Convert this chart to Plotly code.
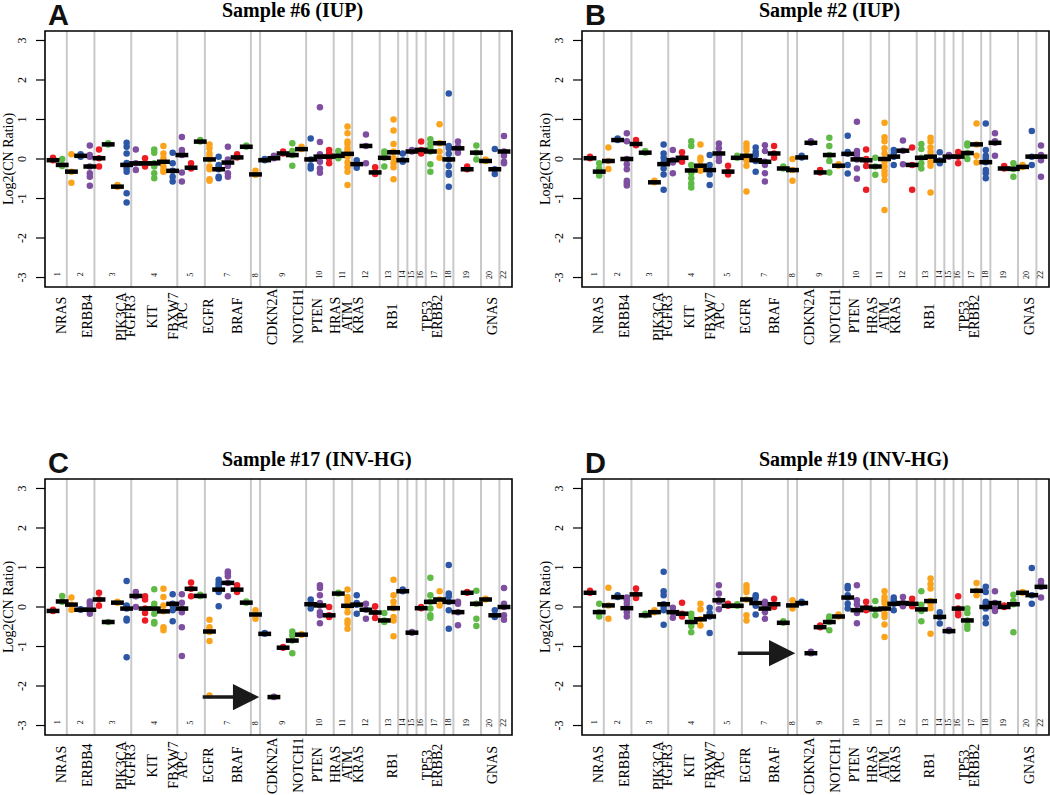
import plotly.graph_objects as go

# chromosome layout of the amplicon groups (group index 1..50 along the genome)
chrom_names = ["1", "2", "3", "4", "5", "7", "8", "9", "10", "11", "12",
               "13", "14", "15", "16", "17", "18", "19", "20", "22"]
chrom_sizes = [2, 3, 4, 5, 3, 5, 1, 5, 3, 2, 3, 2, 1, 1, 1, 2, 1, 3, 2, 1]

gene_names = ["NRAS", "ERBB4", "PIK3CA", "FGFR3", "KIT", "FBXW7", "APC", "EGFR",
              "BRAF", "CDKN2A", "NOTCH1", "PTEN", "HRAS", "ATM", "KRAS", "RB1",
              "TP53", "ERBB2", "GNAS"]
gene_pos = [1.87, 4.7, 8.4, 9.4, 11.8, 14.0, 15.0, 17.85, 21.0, 24.8, 27.6, 29.7,
            31.65, 32.95, 34.15, 37.85, 41.65, 42.75, 48.7]

y_ticks = [-3, -2, -1, 0, 1, 2, 3]

titles = ["Sample #6 (IUP)", "Sample #2 (IUP)", "Sample #17 (INV-HG)", "Sample #19 (INV-HG)"]
letters = ["A", "B", "C", "D"]

# per-group median (black bars)
med_s6 = [-0.03, -0.15, -0.32, 0.08, -0.19, 0.02, 0.37, -0.70, -0.15, -0.11,
          -0.11, -0.11, -0.07, -0.30, 0.10, -0.22, 0.44, -0.01, -0.26, -0.09,
          0.04, 0.31, -0.39, -0.03, 0.02, 0.14, 0.10, 0.25, -0.01, 0.06,
          0.06, 0.08, 0.13, -0.13, 0.33, -0.34, 0.03, 0.17, -0.03, 0.19,
          0.23, 0.19, 0.40, -0.01, 0.27, -0.26, 0.16, -0.05, -0.26, 0.19]
med_s2 = [0.02, -0.32, -0.05, 0.48, 0.0, 0.38, 0.16, -0.59, -0.13, -0.03,
          0.03, -0.29, -0.17, -0.28, 0.14, -0.32, 0.03, 0.08, -0.03, -0.07,
          0.14, -0.24, -0.28, 0.04, 0.41, -0.34, 0.10, -0.17, 0.13, -0.01,
          -0.03, -0.19, 0.0, 0.06, 0.21, -0.15, 0.03, 0.06, -0.04, 0.06,
          0.06, 0.15, 0.37, -0.08, 0.41, -0.24, -0.25, -0.20, 0.06, 0.06]
med_s17 = [-0.10, 0.14, 0.06, -0.07, -0.07, 0.19, -0.38, 0.11, -0.04, 0.28,
           -0.04, -0.04, -0.11, 0.08, -0.04, 0.46, 0.28, -0.62, 0.44, 0.61,
           0.44, 0.11, -0.19, -0.68, -2.28, -1.03, -0.85, -0.70, 0.07, 0.04,
           -0.21, 0.34, 0.03, 0.06, -0.07, -0.14, -0.34, -0.03, 0.40, -0.65,
           -0.03, 0.13, 0.19, 0.13, -0.13, 0.36, 0.08, 0.19, -0.21, 0.0]
med_s19 = [0.36, -0.13, 0.04, 0.25, -0.03, 0.32, -0.21, -0.13, 0.07, -0.13,
           -0.17, -0.38, -0.31, -0.24, 0.17, 0.03, 0.03, 0.19, 0.10, -0.04,
           0.07, -0.40, 0.04, 0.10, -1.17, -0.51, -0.38, -0.24, 0.24, -0.08,
           -0.02, -0.06, -0.04, 0.08, 0.10, 0.08, -0.06, 0.15, -0.25, -0.61,
           -0.04, -0.34, 0.41, 0.0, 0.10, 0.0, 0.07, 0.36, 0.30, 0.51]

# individual amplicon log2 ratios per group
pts_s6 = [
    [0.03, -0.03], [0.0, -0.15, -0.18], [0.12, -0.32, -0.6], [0.12, 0.08, 0.06],
    [0.34, 0.1, 0.06, -0.19, -0.36, -0.45, -0.68], [0.24, 0.02, -0.19], [0.4, 0.37],
    [-0.66, -0.7], [0.41, 0.31, 0.14, -0.1, -0.24, -0.32, -0.87, -1.1],
    [0.24, -0.11, -0.28], [0.02, -0.11, -0.19], [0.24, 0.16, -0.11, -0.19, -0.36, -0.49],
    [0.33, 0.14, 0.02, -0.07, -0.19, -0.28, -0.32], [0.16, -0.11, -0.3, -0.45, -0.57],
    [0.56, 0.23, 0.14, 0.1, -0.34, -0.57], [-0.11, -0.22, -0.24], [0.48, 0.44],
    [0.37, 0.27, 0.14, 0.06, -0.01, -0.19, -0.26, -0.51, -0.55],
    [0.06, -0.15, -0.19, -0.26, -0.45, -0.49], [0.31, -0.01, -0.09, -0.18, -0.36, -0.45],
    [0.12, 0.06, 0.04], [0.34, 0.31], [-0.3, -0.39, -0.4], [0.0, -0.03], [0.08, 0.02],
    [0.19, 0.14], [0.4, 0.2, 0.1, -0.17], [0.31, 0.25], [0.52, -0.01, -0.17, -0.24],
    [1.31, 0.43, 0.12, 0.06, -0.07, -0.24, -0.35], [0.23, 0.14, 0.06, 0.02, -0.11],
    [0.2, 0.08, 0.02],
    [0.82, 0.65, 0.44, 0.38, 0.27, 0.19, 0.13, 0.06, -0.09, -0.21, -0.32, -0.66],
    [-0.03, -0.13, -0.22], [0.62, 0.33, -0.11], [-0.21, -0.34, -0.38],
    [0.19, 0.13, 0.03, -0.19], [1.0, 0.72, 0.38, 0.19, 0.17, 0.02, -0.11, -0.21, -0.51],
    [0.14, -0.03, -0.07], [0.23, 0.19], [0.44, 0.23, 0.14],
    [0.5, 0.38, 0.27, 0.19, -0.13, -0.32], [0.88, 0.4, 0.19, 0.03],
    [1.66, 0.33, 0.27, 0.13, -0.01, -0.18, -0.35, -0.4, -0.7], [0.44, 0.31, 0.27, 0.16],
    [-0.19, -0.26], [0.34, 0.16, -0.01], [-0.01, -0.05], [0.25, -0.26, -0.38],
    [0.58, 0.19, 0.08, -0.07, -0.11],
]
pts_s2 = [
    [0.06, 0.02], [-0.11, -0.24, -0.32, -0.42], [0.29, -0.05, -0.25], [0.52, 0.48],
    [0.65, 0.45, 0.0, -0.13, -0.26, -0.55, -0.61, -0.67], [0.48, 0.35], [0.2, 0.16],
    [-0.55, -0.59], [0.37, 0.14, 0.03, -0.09, -0.13, -0.24, -0.39, -0.78],
    [0.23, -0.03, -0.09, -0.36], [0.17, 0.03, -0.07],
    [0.45, 0.33, -0.15, -0.29, -0.36, -0.49, -0.62, -0.72],
    [0.37, 0.03, -0.03, -0.17, -0.24, -0.3], [0.1, -0.15, -0.28, -0.39, -0.66],
    [0.39, 0.27, 0.14, 0.06, -0.05], [-0.17, -0.32, -0.39], [0.08, 0.03],
    [0.39, 0.31, 0.23, 0.08, -0.03, -0.17, -0.82], [0.29, 0.18, 0.1, -0.03, -0.05, -0.32],
    [0.35, 0.2, -0.07, -0.15, -0.36, -0.57], [0.33, 0.14, 0.03], [-0.19, -0.24],
    [0.0, -0.28, -0.55], [0.08, 0.04], [0.45, 0.41], [-0.28, -0.34],
    [0.54, 0.33, 0.1, -0.05, -0.34], [-0.13, -0.17], [0.59, 0.18, 0.13, -0.15, -0.37],
    [0.94, 0.2, 0.14, 0.06, -0.01, -0.24, -0.5], [0.24, 0.0, -0.03, -0.18, -0.78],
    [0.03, -0.19, -0.4],
    [0.92, 0.55, 0.45, 0.27, 0.14, 0.0, -0.07, -0.19, -0.3, -0.4, -0.53, -1.29],
    [0.23, 0.14, 0.06, -0.15], [0.47, 0.21, -0.13], [0.29, -0.15, -0.78],
    [0.38, 0.25, 0.03, -0.11, -0.24], [0.54, 0.44, 0.29, 0.18, 0.06, -0.08, -0.17, -0.85],
    [0.17, -0.04, -0.11], [0.1, 0.06], [0.18, 0.06, -0.11], [0.39, 0.34, 0.15, 0.0],
    [0.9, 0.37, 0.08, -0.09], [0.9, 0.23, 0.08, 0.02, -0.08, -0.28, -0.36, -0.49],
    [0.65, 0.45, 0.41, 0.08], [-0.18, -0.24], [-0.11, -0.25, -0.45], [-0.15, -0.2],
    [0.71, 0.06, -0.15], [0.34, 0.1, 0.06, -0.03, -0.45],
]
pts_s17 = [
    [-0.07, -0.1], [0.28, 0.14, 0.13], [0.24, 0.06, -0.07], [-0.06, -0.07],
    [0.14, 0.08, 0.0, -0.07, -0.1, -0.17], [0.36, 0.19, 0.03], [-0.38], [0.13, 0.11],
    [0.66, 0.04, 0.0, -0.04, -0.3, -0.34, -1.27], [0.38, 0.28, 0.27, 0.0],
    [0.27, 0.19, -0.04, -0.15, -0.34], [0.45, 0.08, 0.0, -0.04, -0.17, -0.38, -0.42],
    [0.46, 0.25, 0.04, -0.11, -0.51, -0.59], [0.32, 0.08, 0.04, -0.08, -0.36],
    [0.32, 0.11, -0.04, -0.13, -0.51, -1.24], [0.62, 0.46, 0.27], [0.31, 0.28],
    [-0.32, -0.51, -0.62, -0.63, -0.86, -2.24], [0.69, 0.61, 0.55, 0.49, 0.44, 0.38, 0.02],
    [0.9, 0.85, 0.78, 0.61, 0.27], [0.55, 0.44, 0.38], [0.14, 0.11], [-0.08, -0.19, -0.3],
    [-0.66, -0.68], [-2.27, -2.28], [-1.01, -1.03], [-0.62, -0.72, -0.85, -1.17],
    [-0.69, -0.7], [0.19, 0.1, 0.07, -0.04], [0.55, 0.48, 0.3, 0.1, 0.04, -0.13, -0.21, -0.41],
    [0.0, -0.21, -0.25], [0.36, 0.34],
    [0.44, 0.25, 0.17, 0.08, 0.03, 0.0, -0.13, -0.34, -0.42, -0.55],
    [0.3, 0.1, 0.06, -0.17], [0.08, -0.07, -0.3], [0.02, -0.14, -0.28], [-0.15, -0.34, -0.38],
    [0.69, 0.3, 0.13, 0.0, -0.03, -0.25, -0.34, -0.74], [0.44, 0.4], [-0.63, -0.65],
    [0.0, -0.03], [0.74, 0.3, 0.13, -0.04, -0.21, -0.27], [0.4, 0.19, 0.04],
    [1.06, 0.34, 0.27, 0.13, -0.08, -0.55], [0.13, 0.08, -0.13, -0.46], [0.38, 0.36],
    [0.41, 0.08, -0.3, -0.48], [0.21, 0.19], [-0.08, -0.21, -0.25],
    [0.48, 0.08, 0.0, -0.21, -0.32],
]
pts_s19 = [
    [0.41, 0.36], [0.08, -0.13, -0.24], [0.49, 0.04, -0.3], [0.3, 0.25],
    [0.24, 0.17, 0.08, -0.03, -0.13, -0.24], [0.47, 0.32, 0.23], [-0.17, -0.21],
    [-0.08, -0.13], [0.89, 0.4, 0.3, 0.07, 0.0, -0.08, -0.45], [-0.02, -0.13, -0.27],
    [0.11, -0.17, -0.24], [-0.17, -0.25, -0.38, -0.48, -0.64], [0.08, -0.06, -0.31, -0.47],
    [-0.02, -0.15, -0.24, -0.66], [0.55, 0.34, 0.17, 0.13, -0.06], [0.08, 0.03],
    [0.07, 0.03], [0.55, 0.47, 0.38, 0.19, -0.21, -0.34], [0.3, 0.24, 0.1, 0.03, -0.19],
    [0.13, 0.04, -0.04, -0.13, -0.3], [0.21, 0.07, 0.0], [-0.36, -0.4], [0.17, 0.04, -0.04],
    [0.13, 0.1], [-1.13, -1.17], [-0.47, -0.51], [-0.24, -0.3, -0.38, -0.59], [-0.19, -0.24],
    [0.53, 0.47, 0.3, 0.24, 0.08, -0.04], [0.55, 0.17, 0.07, -0.08, -0.15, -0.41],
    [0.13, -0.02, -0.08], [0.15, -0.06, -0.21],
    [0.4, 0.25, 0.17, 0.1, -0.04, -0.17, -0.25, -0.44, -0.76], [0.24, 0.17, 0.08, -0.08],
    [0.25, 0.1, 0.02], [0.21, 0.08, 0.02], [0.4, 0.06, -0.06, -0.1, -0.36],
    [0.72, 0.58, 0.47, 0.15, 0.08, -0.03, -0.68], [-0.13, -0.25, -0.42], [-0.58, -0.61],
    [0.27, -0.04, -0.15, -0.21], [-0.04, -0.15, -0.34, -0.47, -0.55], [0.61, 0.41, 0.3],
    [0.51, 0.38, 0.13, 0.08, 0.0, -0.04, -0.27, -0.41], [0.4, 0.1, -0.04, -0.1], [0.04, 0.0],
    [0.31, 0.15, 0.07, -0.64], [0.38, 0.36], [0.99, 0.3, 0.08], [0.66, 0.59, 0.51, 0.24],
]

# arrows pointing at the CDKN2A deletion (panels C and D)
arrow_panel = [2, 3]
arrow_tail = [17.1, 16.9]
arrow_head = [23.4, 23.3]
arrow_level = [-2.28, -1.17]

medians = [med_s6, med_s2, med_s17, med_s19]
points = [pts_s6, pts_s2, pts_s17, pts_s19]

palette = ["#EC1C24", "#5FBA46", "#FAA31B", "#2C56A6", "#7E4FA0"]
SERIF = "Liberation Serif"
W, H = 1050, 795
lefts = [45, 582, 45, 582]
tops = [31, 31, 479, 479]
PW, PH = 467, 256
XR = [0.13, 50.87]
YR = [-3.24, 3.24]

# chromosome boundaries and centres in group units
bounds, centres = [], []
acc = 0
for s in chrom_sizes:
    centres.append(acc + (s + 1) / 2)
    acc += s
    bounds.append(acc + 0.5)
bounds = bounds[:-1]


def note(**kw):
    base = dict(showarrow=False, xanchor="center", yanchor="middle")
    base.update(kw)
    return base


fig = go.Figure()
shapes, annots = [], []
layout = {}

for i in range(4):
    sfx = "" if i == 0 else str(i + 1)
    xa, ya = "x" + sfx, "y" + sfx
    L, T = lefts[i], tops[i]
    B = T + PH
    layout["xaxis" + sfx] = dict(
        domain=[L / W, (L + PW) / W], range=XR, anchor=ya, automargin=False,
        showgrid=False, zeroline=False, showticklabels=False, ticks="", showline=False)
    layout["yaxis" + sfx] = dict(
        domain=[1 - B / H, 1 - T / H], range=YR, anchor=xa, automargin=False,
        showgrid=False, zeroline=False, showticklabels=False, ticks="", showline=False)

    # chromosome separators
    for b in bounds:
        shapes.append(dict(type="line", xref=xa, yref=ya + " domain", x0=b, x1=b,
                           y0=0, y1=1, layer="below",
                           line=dict(color="#C9C9C9", width=2)))
    # box around the panel
    shapes.append(dict(type="rect", xref=xa + " domain", yref=ya + " domain",
                       x0=0, x1=1, y0=0, y1=1, layer="above",
                       line=dict(color="black", width=1.6)))
    # y axis ticks and labels (R style, labels parallel to the axis)
    for tv in y_ticks:
        shapes.append(dict(type="line", xref="paper", yref=ya,
                           x0=(L - 9) / W, x1=L / W, y0=tv, y1=tv,
                           line=dict(color="black", width=1.2)))
        annots.append(note(x=(L - 23) / W, y=tv, xref="paper", yref=ya, text=str(tv),
                           textangle=-90, font=dict(family=SERIF, size=12, color="black")))

    px_, py_, pc_ = [], [], []
    bx, by = [], []
    for g, (m, vals) in enumerate(zip(medians[i], points[i])):
        gx = g + 1
        for v in vals:
            px_.append(gx)
            py_.append(v)
            pc_.append(palette[g % 5])
        bx += [gx - 0.7, gx + 0.7, None]
        by += [m, m, None]

    fig.add_trace(go.Scatter(x=px_, y=py_, mode="markers", xaxis=xa, yaxis=ya,
                             marker=dict(color=pc_, size=6.5, line=dict(width=0)),
                             showlegend=False, hoverinfo="y"))
    fig.add_trace(go.Scatter(x=bx, y=by, mode="lines", xaxis=xa, yaxis=ya,
                             line=dict(color="black", width=4.5),
                             showlegend=False, hoverinfo="skip"))

    for c, nm in zip(centres, chrom_names):
        annots.append(note(x=c, y=-2.93, xref=xa, yref=ya, text=nm, textangle=-90,
                           font=dict(family=SERIF, size=8, color="black")))

    lab_y = B + (29 if i < 2 else 30)
    for gp, gn in zip(gene_pos, gene_names):
        annots.append(note(x=gp, y=1 - lab_y / H, xref=xa, yref="paper", text=gn,
                           textangle=-90, font=dict(family=SERIF, size=14, color="black")))

    annots.append(note(x=(L + 13) / W, y=1 - (T - 16) / H, xref="paper", yref="paper",
                       text="<b>" + letters[i] + "</b>",
                       font=dict(family="Liberation Sans", size=29, color="#111111")))
    annots.append(note(x=(L + 175) / W, y=1 - (T - 20) / H, xref="paper", yref="paper",
                       text="<b>" + titles[i] + "</b>", xanchor="left",
                       font=dict(family=SERIF, size=20, color="black")))
    annots.append(note(x=(L - 36) / W, y=1 - (T + PH / 2) / H, xref="paper", yref="paper",
                       text="Log2(CN Ratio)", textangle=-90,
                       font=dict(family=SERIF, size=14, color="black")))

for p, t, h, lv in zip(arrow_panel, arrow_tail, arrow_head, arrow_level):
    sfx = str(p + 1)
    annots.append(dict(x=h, y=lv, ax=t, ay=lv, xref="x" + sfx, yref="y" + sfx,
                       axref="x" + sfx, ayref="y" + sfx, text="", showarrow=True,
                       arrowhead=2, arrowsize=1.5, arrowwidth=3.5, arrowcolor="#1a1a1a"))

fig.update_layout(template="none", width=W, height=H,
                  margin=dict(l=0, r=0, t=0, b=0, pad=0),
                  plot_bgcolor="white", paper_bgcolor="white",
                  shapes=shapes, annotations=annots, **layout)

fig.write_html("out.html", config={"displayModeBar": False},
               post_script="document.body.style.margin='0px';")
